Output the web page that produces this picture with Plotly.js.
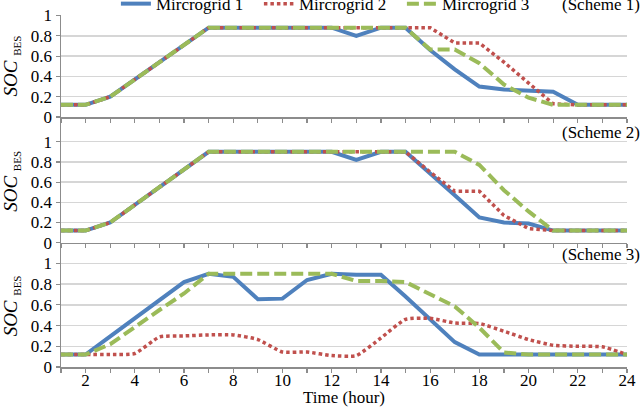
<!DOCTYPE html>
<html>
<head>
<meta charset="utf-8">
<script src="https://cdn.plot.ly/plotly-3.0.1.min.js"></script>
<style>html,body{margin:0;padding:0;background:#fff;}#chart{width:642px;height:407px;}</style>
</head>
<body>
<div id="chart"></div>
<script>
// ---- data ----
var hours = [1,2,3,4,5,6,7,8,9,10,11,12,13,14,15,16,17,18,19,20,21,22,23,24];
var seriesNames = ["Mircrogrid 1", "Mircrogrid 2", "Mircrogrid 3"];
var schemeLabels = ["(Scheme 1)", "(Scheme 2)", "(Scheme 3)"];
var xTickVals = [1,2,3,4,5,6,7,8,9,10,11,12,13,14,15,16,17,18,19,20,21,22,23,24];
var xTickText = ["","2","","4","","6","","8","","10","","12","","14","","16","","18","","20","","22","","24"];
var yTickVals = [0,0.2,0.4,0.6,0.8,1];
var yTickText = ["0","0.2","0.4","0.6","0.8","1"];

// Scheme 1
var s1_mg1 = [0.12,0.12,0.20,0.37,0.54,0.71,0.88,0.88,0.88,0.88,0.88,0.88,0.80,0.88,0.88,0.66,0.47,0.30,0.27,0.26,0.25,0.12,0.12,0.12];
var s1_mg2 = [0.12,0.12,0.20,0.37,0.54,0.71,0.88,0.88,0.88,0.88,0.88,0.88,0.88,0.88,0.88,0.88,0.73,0.73,0.54,0.33,0.13,0.12,0.12,0.12];
var s1_mg3 = [0.12,0.12,0.20,0.37,0.54,0.71,0.88,0.88,0.88,0.88,0.88,0.88,0.88,0.88,0.88,0.665,0.665,0.53,0.32,0.19,0.12,0.12,0.12,0.12];
// Scheme 2
var s2_mg1 = [0.12,0.12,0.20,0.375,0.55,0.725,0.90,0.90,0.90,0.90,0.90,0.90,0.82,0.90,0.90,0.69,0.47,0.25,0.20,0.19,0.12,0.12,0.12,0.12];
var s2_mg2 = [0.12,0.12,0.20,0.375,0.55,0.725,0.90,0.90,0.90,0.90,0.90,0.90,0.90,0.90,0.90,0.70,0.51,0.51,0.27,0.14,0.12,0.12,0.12,0.12];
var s2_mg3 = [0.12,0.12,0.20,0.375,0.55,0.725,0.90,0.90,0.90,0.90,0.90,0.90,0.90,0.90,0.90,0.90,0.90,0.77,0.52,0.31,0.12,0.12,0.12,0.12];
// Scheme 3
var s3_mg1 = [0.12,0.12,0.295,0.47,0.645,0.82,0.90,0.87,0.655,0.66,0.84,0.90,0.89,0.89,0.68,0.46,0.24,0.12,0.12,0.12,0.12,0.12,0.12,0.12];
var s3_mg2 = [0.12,0.12,0.12,0.13,0.29,0.30,0.31,0.31,0.265,0.145,0.145,0.11,0.11,0.28,0.46,0.47,0.425,0.42,0.345,0.265,0.21,0.20,0.195,0.12];
var s3_mg3 = [0.12,0.12,0.22,0.39,0.55,0.71,0.90,0.90,0.90,0.90,0.90,0.90,0.83,0.83,0.82,0.70,0.585,0.38,0.14,0.12,0.12,0.12,0.12,0.12];

// ---- styles ----
var FONT = "Times New Roman, Liberation Serif, Tinos, serif";
var colors = ["#4F81BD", "#C0504D", "#9BBB59"];
var lineStyles = [
  {color: colors[0], width: 4, dash: "solid"},
  {color: colors[1], width: 3.5, dash: "3.5px,3px"},
  {color: colors[2], width: 4, dash: "12px,5px"}
];
var panels = [
  {data: [s1_mg1, s1_mg2, s1_mg3], xa: "x", ya: "y"},
  {data: [s2_mg1, s2_mg2, s2_mg3], xa: "x2", ya: "y2"},
  {data: [s3_mg1, s3_mg2, s3_mg3], xa: "x3", ya: "y3"}
];

var traces = [];
panels.forEach(function (p, pi) {
  p.data.forEach(function (vals, si) {
    var ls = Object.assign({}, lineStyles[si]);
    if (pi === 2 && si === 1) { ls.shape = "spline"; ls.smoothing = 0.5; }
    traces.push({
      x: hours, y: vals, xaxis: p.xa, yaxis: p.ya,
      type: "scatter", mode: "lines",
      name: seriesNames[si], line: ls,
      showlegend: pi === 0, hoverinfo: "skip"
    });
  });
});

var axisLine = "#8C8C8C";
function xAx(anchor, labels, title) {
  var a = {
    domain: [0, 1], anchor: anchor, range: [1, 24],
    showgrid: false, zeroline: false,
    showline: true, linecolor: axisLine, linewidth: 1.5,
    ticks: "outside", ticklen: 4, tickwidth: 1.2, tickcolor: axisLine,
    tickmode: "array", tickvals: xTickVals, ticktext: xTickText,
    showticklabels: labels, ticklabelstandoff: -7,
    tickfont: {family: FONT, size: 17, color: "#000"}
  };
  if (title) a.title = {text: title, font: {family: FONT, size: 17, color: "#000"}, standoff: 0};
  return a;
}
function yAx(anchor, domain, top) {
  return {
    domain: domain, anchor: anchor, range: [0, top],
    showgrid: true, gridcolor: "#D6D6D6", gridwidth: 1.5,
    zeroline: false,
    showline: true, linecolor: axisLine, linewidth: 1.5,
    ticks: "outside", ticklen: 4, tickwidth: 1.2, tickcolor: axisLine,
    tickmode: "array", tickvals: yTickVals, ticktext: yTickText,
    tickfont: {family: FONT, size: 17, color: "#000"},
    title: {text: "<i>SOC</i> <sub><span style='font-size:11px'>BES</span></sub>",
            font: {family: FONT, size: 19, color: "#000"}, standoff: 8}
  };
}

var annotations = [
  {text: schemeLabels[0], x: 1.026, y: 1.031},
  {text: schemeLabels[1], x: 1.026, y: 0.665},
  {text: schemeLabels[2], x: 1.026, y: 0.321}
].map(function (a) {
  return {text: a.text, xref: "paper", yref: "paper", x: a.x, y: a.y,
          xanchor: "right", yanchor: "middle", showarrow: false,
          font: {family: FONT, size: 17, color: "#000"}};
});

var layout = {
  width: 642, height: 407,
  margin: {l: 61, r: 15, t: 15, b: 40, autoexpand: false},
  paper_bgcolor: "#fff", plot_bgcolor: "#fff",
  font: {family: FONT, size: 17, color: "#000"},
  showlegend: true,
  legend: {orientation: "h", x: 0.097, xanchor: "left", y: 1.031, yanchor: "middle",
           font: {family: FONT, size: 17, color: "#000"},
           entrywidth: 98, entrywidthmode: "pixels",
           bgcolor: "rgba(0,0,0,0)", borderwidth: 0, tracegroupgap: 0},
  xaxis: xAx("y", false),
  xaxis2: xAx("y2", false),
  xaxis3: xAx("y3", true, "Time (hour)"),
  yaxis: yAx("x", [0.7102, 1], 1.005),
  yaxis2: yAx("x2", [0.3531, 0.7017], 1.215),
  yaxis3: yAx("x3", [0, 0.347], 1.179),
  annotations: annotations
};

Plotly.newPlot("chart", traces, layout, {displayModeBar: false, staticPlot: true});
</script>
</body>
</html>
